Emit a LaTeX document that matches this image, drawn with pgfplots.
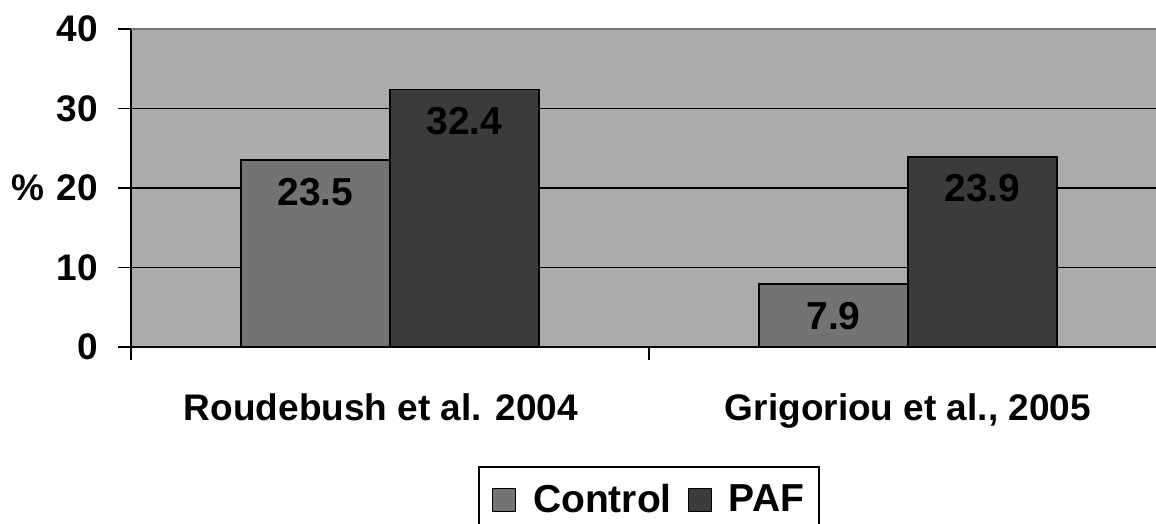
\documentclass[border=0pt]{standalone}
\usepackage{pgfplots}
\pgfplotsset{compat=1.18}
\usepackage{fontspec}
\setmainfont{Liberation Sans}
\definecolor{bg}{HTML}{ABABAB}
\definecolor{ctrl}{HTML}{737373}
\definecolor{paf}{HTML}{3B3B3B}
\newcommand\bigfont{\fontsize{37}{40}\selectfont\bfseries}
\newcommand\bigerfont{\fontsize{39}{42}\selectfont\bfseries}
\begin{document}
\begin{tikzpicture}
\useasboundingbox (0,0) rectangle (1156pt,-524pt);
\clip (0,0) rectangle (1156pt,-524pt);
\begin{axis}[
 at={(131pt,-347pt)}, anchor=south west,
 scale only axis, width=1025pt, height=318pt,
 xmin=0.5, xmax=2.4788, ymin=0, ymax=40,
 axis lines=left, axis line style={-, line width=1.5pt, black},
 axis background/.style={fill=bg},
 tick label style={font=\bigfont},
 tick align=outside, major tick length=13pt,
 tick style={black, line width=1.5pt},
 xtick={0.5,1.5,2.5}, xticklabels={},
 extra x ticks={1,2},
 extra x tick labels={Roudebush et al. 2004\kern18pt,{Grigoriou et al., 2005}},
 extra x tick style={major tick length=0pt, xticklabel style={anchor=north, inner sep=0pt, yshift=-46pt}},
 ytick={0,10,20,30}, yticklabels={0,10,{\%\kern12pt 20},30},
 extra y ticks={40}, extra y tick labels={40},
 extra y tick style={grid=major, major grid style={black!55, line width=1.5pt}},
 ymajorgrids, major grid style={black, line width=1.5pt},
 yticklabel style={anchor=east, inner sep=0pt, xshift=-20pt, font=\bigfont},
 ybar, bar width=0.2876,
 point meta=explicit symbolic,
 nodes near coords,
 nodes near coords style={anchor=north, inner sep=0pt, yshift=-17pt, font=\bigerfont, text=black},
 legend columns=2,
 legend style={at={(0.5054,-0.3742)}, anchor=north, draw=black, line width=1.5pt, font=\bigerfont,
   inner xsep=13pt, inner ysep=15pt,
   /tikz/every odd column/.append style={column sep=15pt},
   /tikz/every even column/.append style={column sep=14pt}},
 legend image code/.code={\draw[#1, draw=black, line width=1.2pt] (0pt,-13pt) rectangle (23pt,10pt);},
]
\addplot[fill=ctrl, draw=black, line width=1.5pt, bar shift=-0.1438] coordinates {(1,23.5)[23.5] (2,7.9)[7.9]};
\addplot[fill=paf, draw=black, line width=1.5pt, bar shift=0.1438] coordinates {(1,32.4)[32.4] (2,23.9)[23.9]};
\legend{Control,PAF}
\end{axis}
\end{tikzpicture}
\end{document}
